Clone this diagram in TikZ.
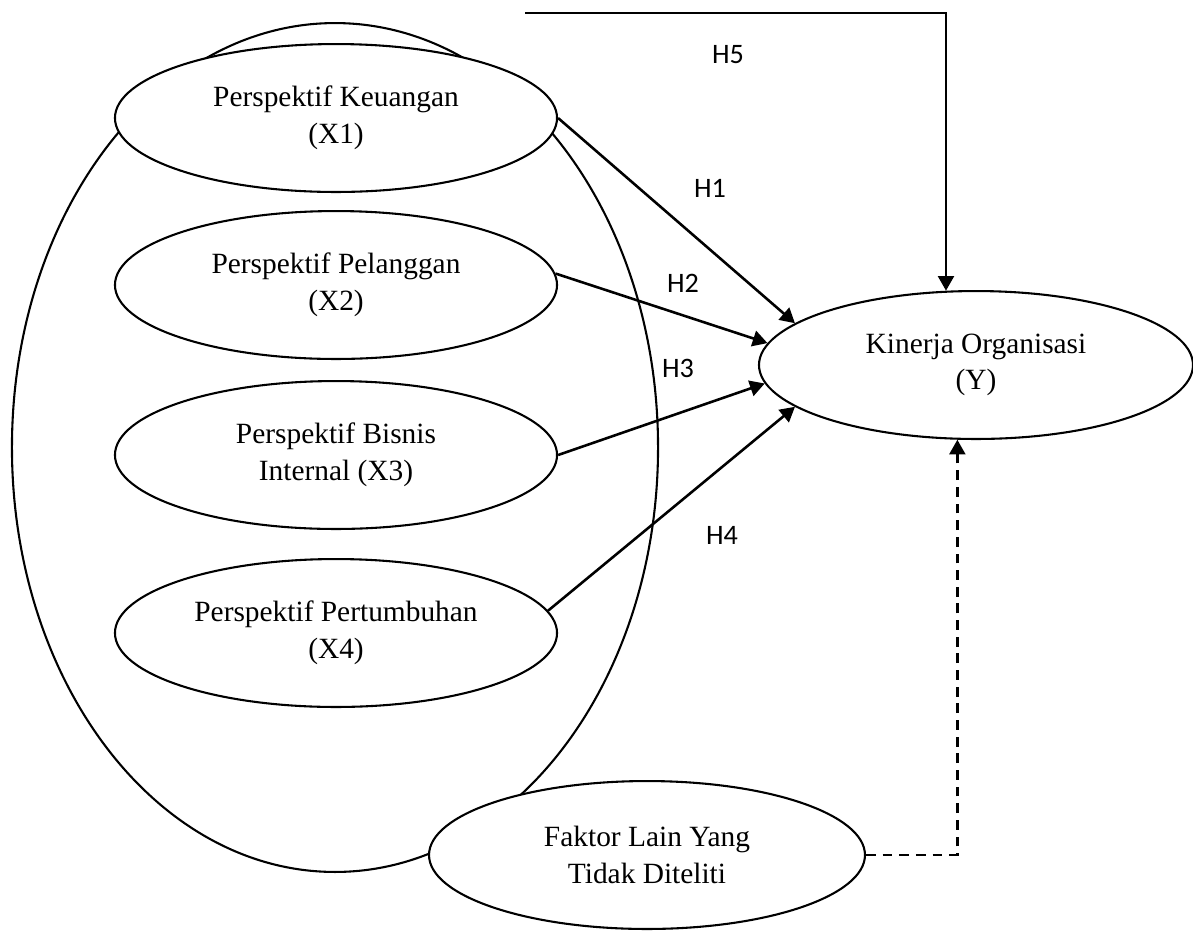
\documentclass[tikz,border=0pt]{standalone}
\usepackage{fontspec}
\setmainfont{Liberation Serif}
\newfontfamily\hfont{Carlito}
\usepackage{tikz}
\usetikzlibrary{shapes.geometric, arrows.meta, positioning}

\tikzset{
	oval/.style={draw, ellipse, line width=0.85pt, fill=white, inner sep=0pt, align=center,
		font=\fontsize{12}{15}\selectfont, minimum height=60.4pt},
	hyp/.style={line width=1.05pt, -{Triangle[length=6pt,width=6.5pt]}},
	hlabel/.style={font=\hfont\fontsize{11.5}{13}\selectfont, inner sep=0pt},
}

\begin{document}
\begin{tikzpicture}[x=0.4083pt, y=-0.4083pt]
	\useasboundingbox (0,0) rectangle (1193,930);

	% outer group
	\node[draw, ellipse, line width=0.85pt, minimum width=263.8pt, minimum height=346.6pt] (bsc) at (335,447.5) {};

	% perspectives
	\foreach \txt/\yy [count=\n] in {
		{Perspektif Keuangan\\(X1)}/118,
		{Perspektif Pelanggan\\(X2)}/285,
		{Perspektif Bisnis\\Internal (X3)}/455,
		{Perspektif Pertumbuhan\\(X4)}/633%
	} {
		\node[oval, minimum width=180.5pt] (x\n) at (336,\yy) {\txt};
	}

	\node[oval, minimum width=177.2pt] (kinerja) at (976,365) {Kinerja Organisasi\\(Y)};
	\node[oval, minimum width=178pt] (faktor) at (647,855) {Faktor Lain Yang\\Tidak Diteliti};

	% hypotheses
	\foreach \n/\a/\b in {1/0/167, 2/3/174, 3/0/185, 4/6/193} {
		\draw[hyp] (x\n.\a) -- (kinerja.\b);
	}
	\coordinate (h5start) at (525,13);
	\draw[hyp] (h5start) -| (kinerja.112);
	\draw[hyp, dash pattern=on 4pt off 2.8pt] (faktor.east) -| (kinerja.256);

	% labels
	\foreach \lab/\px/\py in {H5/728/55, H1/710/188, H2/683/283, H3/678/368, H4/722/535} {
		\node[hlabel] (\lab) at (\px,\py) {\lab};
	}
\end{tikzpicture}
\end{document}
